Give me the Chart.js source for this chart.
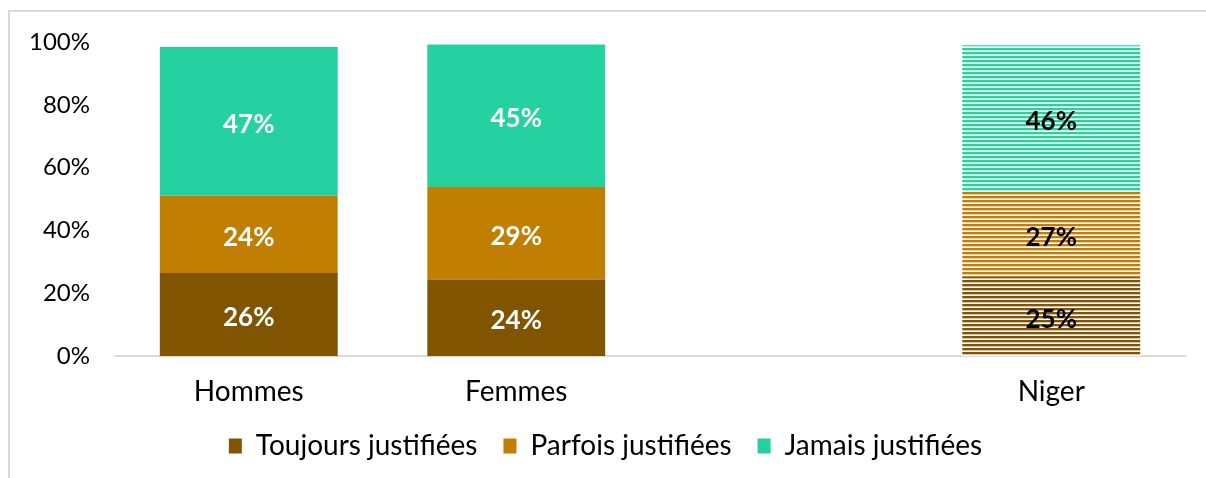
<!DOCTYPE html>
<html>
<head>
<meta charset="utf-8">
<script src="https://cdn.jsdelivr.net/npm/chart.js@4.4.0/dist/chart.umd.min.js"></script>
<style>
  html, body { margin: 0; padding: 0; background: #fff; overflow: hidden; }
  #frame {
    position: absolute; left: 8px; top: 10px; width: 1300px; height: 480px;
    border: 2px solid #d9d9d9; box-sizing: border-box;
  }
  #wrap { position: absolute; left: 0; top: 0; width: 1206px; height: 478px; }
</style>
</head>
<body>
<div id="frame"></div>
<div id="wrap"><canvas id="chart"></canvas></div>
<script>
const categories = ["Hommes", "Femmes", "", "Niger"];
const seriesNames = ["Toujours justifiées", "Parfois justifiées", "Jamais justifiées"];
const toujours = [26.4, 24.4, null, 25.2];
const parfois = [24.6, 29.4, null, 27.0];
const jamais = [47.4, 45.4, null, 46.8];
const shownLabels = [
  [26, 24, null, 25],
  [24, 29, null, 27],
  [47, 45, null, 46],
];
const yTicks = [0, 20, 40, 60, 80, 100];

const colors = ["#805400", "#C07F00", "#25D1A0"];
const FONT = "Lato";

// horizontal stripes for the Niger bar
const makeStripes = (color) => {
  const c = document.createElement("canvas");
  c.width = 8;
  c.height = 4;
  const g = c.getContext("2d");
  g.fillStyle = "#fff";
  g.fillRect(0, 0, 8, 4);
  g.fillStyle = color;
  g.fillRect(0, 0, 8, 2);
  g.globalAlpha = 0.35;
  g.fillRect(0, 2, 8, 1);
  return g.createPattern(c, "repeat");
};

const barColors = (i) =>
  categories.map((c) => (c === "Niger" ? makeStripes(colors[i]) : colors[i]));

const valueLabels = {
  id: "valueLabels",
  afterDatasetsDraw(chart) {
    const ctx = chart.ctx;
    ctx.save();
    ctx.font = `bold 26px ${FONT}`;
    ctx.textAlign = "center";
    ctx.textBaseline = "middle";
    chart.data.datasets.forEach((ds, i) => {
      chart.getDatasetMeta(i).data.forEach((el, j) => {
        const v = shownLabels[i][j];
        if (v == null) return;
        ctx.fillStyle = categories[j] === "Niger" ? "#000" : "#fff";
        ctx.fillText(v + "%", el.x, (el.y + el.base) / 2 + 3);
      });
    });
    ctx.restore();
  },
};

const ctx = document.getElementById("chart");
new Chart(ctx, {
  type: "bar",
  data: {
    labels: categories,
    datasets: [
      { label: seriesNames[0], data: toujours, backgroundColor: barColors(0) },
      { label: seriesNames[1], data: parfois, backgroundColor: barColors(1) },
      { label: seriesNames[2], data: jamais, backgroundColor: barColors(2) },
    ],
  },
  options: {
    responsive: true,
    maintainAspectRatio: false,
    animation: false,
    categoryPercentage: 1,
    barPercentage: 0.665,
    layout: { padding: { top: 42, right: 21, bottom: 8, left: 26 } },
    scales: {
      x: {
        stacked: true,
        grid: { display: false, drawTicks: false },
        border: { color: "#d9d9d9", width: 2 },
        ticks: { color: "#000", padding: 19, font: { family: FONT, size: 28 } },
        afterFit: (s) => { s.height = 50; },
      },
      y: {
        stacked: true,
        min: 0,
        max: 100,
        grid: { display: false, drawTicks: false },
        border: { display: false },
        afterBuildTicks: (s) => { s.ticks = yTicks.map((v) => ({ value: v })); },
        ticks: {
          color: "#000",
          padding: 25,
          font: { family: FONT, size: 24 },
          callback: (v) => v + "%",
        },
        afterFit: (s) => { s.width = 89; },
      },
    },
    plugins: {
      legend: {
        position: "bottom",
        labels: {
          color: "#000",
          font: { family: FONT, size: 28 },
          boxWidth: 13,
          boxHeight: 15,
          padding: 26,
          generateLabels: (chart) =>
            chart.data.datasets.map((ds, i) => ({
              text: ds.label,
              fillStyle: colors[i],
              strokeStyle: colors[i],
              lineWidth: 0,
              datasetIndex: i,
            })),
        },
      },
      tooltip: { enabled: false },
    },
  },
  plugins: [valueLabels],
});
</script>
</body>
</html>
